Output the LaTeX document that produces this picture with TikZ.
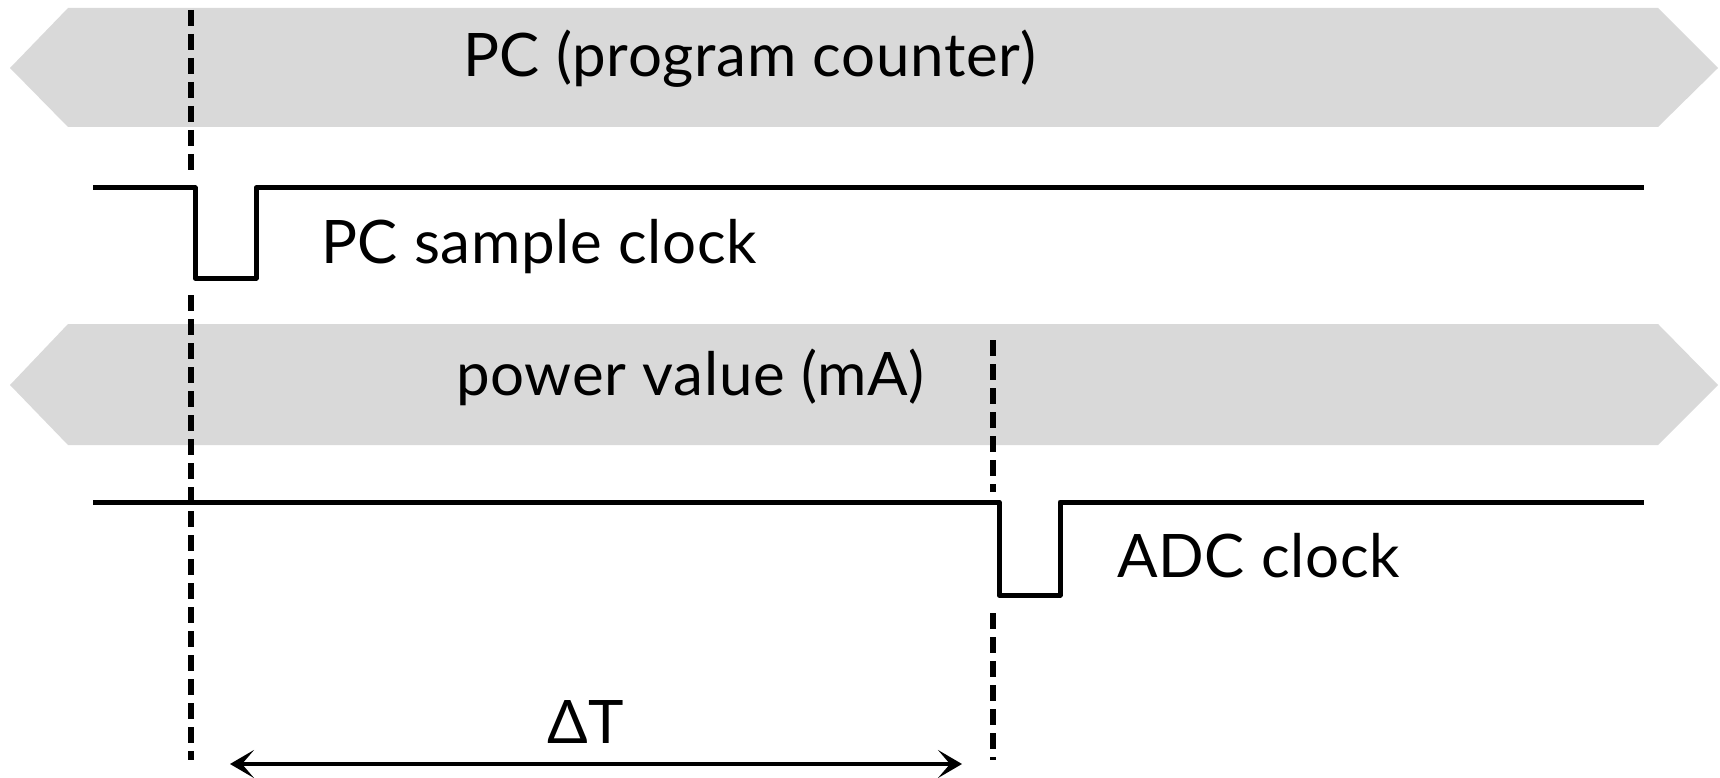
\documentclass[tikz,border=0pt]{standalone}
\usepackage{fontspec}
\setmainfont{Lato}
\usetikzlibrary{arrows.meta}
\definecolor{bandgray}{HTML}{D9D9D9}
\tikzset{
  band/.style={fill=bandgray, draw=none},
  clockline/.style={line width=5pt, line join=round, line cap=butt},
  marker/.style={line width=5.5pt, dash pattern=on 16pt off 8pt},
  lbl/.style={anchor=base west, inner sep=0pt, font=\fontsize{60}{66}\selectfont\addfontfeature{LetterSpace=1.2}},
  span/.style={line width=4pt, {Stealth[length=24pt,width=28pt,inset=12pt]}-{Stealth[length=24pt,width=28pt,inset=12pt]}}
}
\begin{document}
\begin{tikzpicture}[x=1pt,y=-1pt]
\useasboundingbox (0,0) rectangle (1720,778);
% bands
\fill[band] (10,68) -- (68,8) -- (1658,8) -- (1718,68) -- (1658,127) -- (68,127) -- cycle;
\fill[band] (10,385) -- (68,324) -- (1658,324) -- (1718,385) -- (1658,445) -- (68,445) -- cycle;
% labels
\node[lbl] (pc) at (463,77) {PC (program counter)};
\node[lbl] (pcs) at (321,263) {PC sample clock};
\node[lbl] (pw) at (456,395) {power value (mA)};
\node[lbl] (adc) at (1117,577) {ADC clock};
\node[lbl] (dt) at (547,743) {ΔT};
% clocks
\draw[clockline] (93,188) -- (195,188) -- (195,278) -- (256,278) -- (256,188) -- (1644,188);
\draw[clockline] (93,502) -- (999,502) -- (999,595) -- (1060,595) -- (1060,502) -- (1644,502);
% dashed markers
\coordinate (m1a) at (191,10);
\coordinate (m1b) at (191,172);
\coordinate (m1c) at (191,295);
\coordinate (m1d) at (191,760);
\coordinate (m2a) at (993,340);
\coordinate (m2b) at (993,492);
\coordinate (m2c) at (993,613);
\coordinate (m2d) at (993,760);
\draw[marker] (m1a) -- (m1b);
\draw[marker] (m1c) -- (m1d);
\draw[marker] (m2a) -- (m2b);
\draw[marker] (m2c) -- (m2d);
% delta T arrow
\coordinate (al) at (230,764);
\coordinate (ar) at (962,764);
\draw[span] (al) -- (ar);
\end{tikzpicture}
\end{document}
